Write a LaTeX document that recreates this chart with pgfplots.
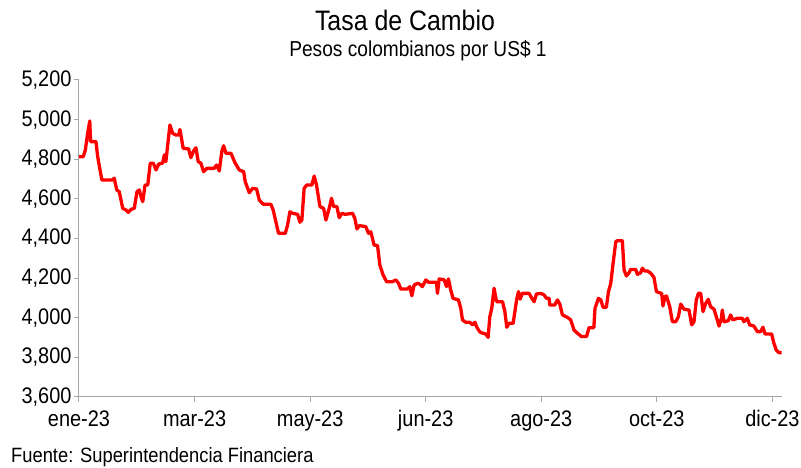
\documentclass[border=0pt]{standalone}
\usepackage{graphicx}
\usepackage{pgfplots}
\pgfplotsset{compat=1.18}
\usepackage{fontspec}
\setmainfont{Liberation Sans}
\definecolor{axgray}{RGB}{166,166,166}
\definecolor{lred}{RGB}{255,0,0}
\newcommand{\vs}[1]{\scalebox{1}[1.13]{#1}}
\begin{document}
\begin{tikzpicture}[x=1bp,y=1bp]
\path[use as bounding box] (-79,-71) rectangle (722,397);
\begin{axis}[at={(0,0)}, anchor=south west, scale only axis,
  width=703bp, height=317bp,
  xmin=0, xmax=365, ymin=3600, ymax=5200,
  axis x line*=bottom, axis y line*=left,
  axis line style={axgray, line width=1bp, -},
  xtick={0,60,120,180,240,300,360},
  xticklabels={\vs{ene-23},\vs{mar-23},\vs{may-23},\vs{jun-23},\vs{ago-23},\vs{oct-23},\vs{dic-23}},
  ytick={3600,3800,4000,4200,4400,4600,4800,5000,5200},
  yticklabel={\vs{\pgfmathprintnumber{\tick}}},
  tick align=outside, major tick length=5bp,
  tick style={axgray, line width=1bp},
  /pgf/number format/.cd, 1000 sep={,}, fixed, assume math mode=true, /pgfplots/.cd,
  ticklabel style={font=\fontsize{20}{24}\selectfont},
  xticklabel style={yshift=-5bp},
  yticklabel style={xshift=1bp},
  clip=false,
]
\addplot[lred, line width=3.3bp, line join=round] table {
x y
0 4813
2.2 4813
3.3 4847
4.5 4931
5.6 4993
6.0 4889
8.8 4889
9.7 4813
11.4 4720
11.9 4695
17.1 4695
18.3 4704
19.6 4645
20.9 4636
22.7 4552
24.4 4544
25.6 4532
27.0 4547
28.7 4552
30.1 4636
31.3 4645
32.2 4611
33.1 4586
34.3 4670
35.7 4670
37.0 4780
38.6 4780
40.0 4746
41.4 4776
43.4 4780
44.3 4822
45.1 4788
47.2 4973
48.6 4931
50.3 4922
51.7 4922
52.4 4950
54.1 4855
56.9 4852
58.1 4808
59.5 4842
60.7 4858
61.9 4788
63.3 4780
64.7 4737
66.4 4754
70.2 4754
71.4 4771
72.8 4741
74.2 4842
75.1 4868
76.3 4830
78.9 4830
81.1 4780
83.2 4746
85.5 4737
86.3 4687
88.4 4631
90.1 4653
92.2 4650
93.6 4594
95.6 4573
99.6 4573
100.8 4544
102.2 4485
103.6 4426
107.1 4426
108.3 4468
109.5 4535
110.9 4527
113.5 4522
114.7 4482
115.7 4493
116.9 4653
118.2 4670
120.9 4670
122.1 4715
123.3 4670
125.1 4561
127.0 4552
128.2 4493
129.9 4552
131.1 4603
132.2 4561
133.9 4561
135.1 4505
136.5 4527
138.2 4522
142.0 4527
143.2 4502
144.3 4448
145.5 4465
148.9 4460
150.3 4426
151.5 4434
153.2 4367
155.0 4364
156.2 4266
157.9 4216
159.7 4182
162.8 4182
164.5 4191
165.9 4174
167.1 4145
170.5 4145
171.8 4157
172.8 4111
174.0 4165
175.7 4174
177.0 4169
178.3 4157
180.1 4191
181.5 4179
185.6 4179
186.1 4123
187.0 4196
189.6 4191
190.8 4157
191.8 4196
193.0 4140
194.2 4098
197.0 4090
198.2 4048
199.1 3989
200.8 3977
202.9 3977
204.3 3964
205.6 3977
206.4 3955
207.4 3938
208.6 3925
211.2 3918
212.4 3901
213.3 4005
214.3 4048
215.5 4149
216.8 4081
219.9 4081
221.1 4031
222.1 3952
223.3 3972
225.4 3972
227.2 4090
228.2 4132
229.0 4094
230.2 4123
233.7 4123
235.1 4098
236.3 4081
237.5 4120
239.8 4123
241.5 4115
242.7 4098
244.1 4098
244.4 4064
247.0 4064
248.4 4090
249.6 4070
251.0 4014
253.6 4002
255.3 3989
257.0 3938
258.4 3925
260.9 3905
263.5 3905
264.8 3950
267.3 3950
267.9 4048
269.7 4098
270.9 4090
272.1 4053
273.8 4053
274.9 4132
276.1 4174
277.3 4275
278.7 4384
279.5 4389
282.1 4389
283.0 4241
284.2 4211
285.6 4227
286.4 4244
289.0 4244
289.9 4219
291.6 4227
292.5 4250
293.7 4236
295.1 4236
296.8 4225
298.5 4204
299.8 4132
301.1 4127
302.5 4123
303.2 4059
304.2 4106
305.0 4110
306.7 4056
308.1 3980
309.8 3980
311.2 4005
312.4 4069
314.1 4043
316.7 4039
318.1 3964
319.3 3980
320.5 4090
321.6 4123
322.8 4123
324.0 4031
325.4 4073
326.7 4093
327.9 4056
329.7 4043
330.9 4005
332.3 3958
333.5 3997
334.0 4039
334.9 3980
337.1 3985
338.3 4014
339.5 3989
341.8 3997
344.4 3997
345.2 3980
347.0 3997
348.2 3964
350.4 3958
352.2 3930
353.9 3930
355.1 3952
356.2 3918
359.6 3918
360.8 3871
362.0 3837
363.4 3824
364.8 3824
};
\end{axis}
\node[anchor=base] at (326,366) {\vs{\fontsize{25}{30}\selectfont Tasa de Cambio}};
\node[anchor=base] at (339,340) {\vs{\fontsize{19.2}{24}\selectfont Pesos colombianos por US\$ 1}};
\node[anchor=base west, inner sep=0pt] at (-68,-65.5) {\vs{\fontsize{18.4}{22}\selectfont Fuente: Superintendencia Financiera}};
\end{tikzpicture}
\end{document}
